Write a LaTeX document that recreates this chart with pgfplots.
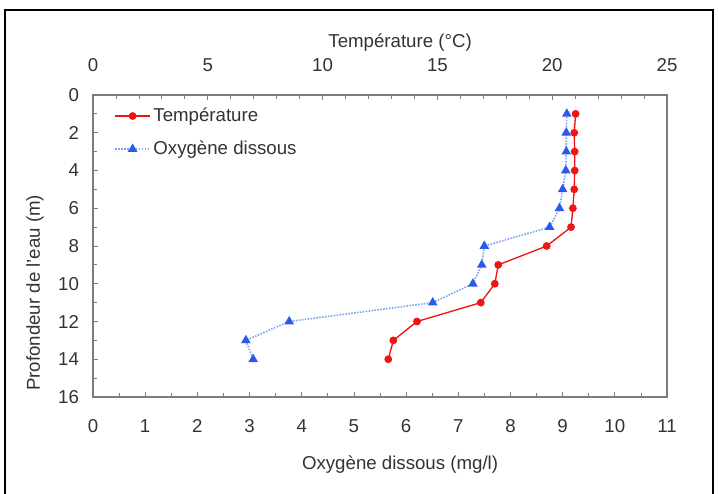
\documentclass[border=0pt]{standalone}
\usepackage{fontspec}
\setmainfont{Liberation Sans}
\usepackage{pgfplots}
\pgfplotsset{compat=1.18}

\definecolor{tempred}{RGB}{240,20,20}
\definecolor{oxyblue}{RGB}{40,90,240}
\definecolor{oxyline}{RGB}{130,160,250}
\definecolor{axgray}{RGB}{125,125,125}

% depth (m) vs temperature (degC)
\pgfplotstableread{
depth temp
1  21.02
2  20.96
3  20.98
4  20.98
5  20.96
6  20.90
7  20.82
8  19.76
9  17.65
10 17.50
11 16.89
12 14.11
13 13.08
14 12.86
}\temptable

% depth (m) vs dissolved oxygen (mg/l)
\pgfplotstableread{
depth oxy
1  9.08
2  9.07
3  9.07
4  9.06
5  9.00
6  8.94
7  8.75
8  7.50
9  7.45
10 7.28
11 6.51
12 3.76
13 2.93
14 3.07
}\oxytable

\pgfplotsset{
  common/.style={
    scale only axis,
    width=430.5pt, height=226.5pt,
    at={(0,0)}, anchor=south west,
    ymin=0, ymax=16, y dir=reverse,
    font=\fontsize{14}{16}\selectfont,
    /pgf/number format/assume math mode=true,
    tick align=inside,
    major tick length=4pt, minor tick length=3pt,
    tick style={axgray, line width=0.6pt},
    every tick label/.append style={text=black!80},
    label style={text=black!80},
  },
}

\begin{document}
\begin{tikzpicture}
\useasboundingbox (-69.75pt,-72pt) rectangle (468.75pt,297.75pt);
\draw[line width=2.2pt] (-66pt,-150pt) rectangle (465pt,290.25pt);

% oxygen, bottom axis
\begin{axis}[
  common,
  axis line style={axgray, line width=0.8pt},
  xmin=0, xmax=11,
  xtick={0,1,...,11}, minor x tick num=1,
  ytick={0,2,...,16}, minor y tick num=1,
  xtick pos=left, ytick pos=left,
  xticklabel style={yshift=-13.5pt},
  yticklabel style={xshift=-7pt},
  xlabel={Oxygène dissous (mg/l)},
  xlabel style={at={(axis description cs:0.535,-0.225)}, anchor=center},
  ylabel={Profondeur de l'eau (m)},
  ylabel style={at={(axis description cs:-0.101,0.345)}, anchor=center, rotate=0},
]
\addplot[oxyline, densely dotted, line width=1.2pt,
  mark=triangle*, mark size=3pt,
  mark options={solid, fill=oxyblue, draw=oxyblue}]
  table[x=oxy, y=depth] {\oxytable};
\end{axis}

% temperature, top axis
\begin{axis}[
  common,
  axis x line*=top, axis y line=none,
  axis line style={draw=none},
  xmin=0, xmax=25,
  xtick={0,5,...,25}, minor x tick num=4,
  xticklabel style={yshift=14pt},
  xlabel={Température (°C)},
  xlabel style={at={(axis description cs:0.535,1.172)}, anchor=center},
  legend cell align=left,
  legend style={at={(axis description cs:0.03,0.975)}, anchor=north west,
    draw=none, fill=none, text=black!80, row sep=9pt,
    font=\fontsize{14}{16}\selectfont},
  legend image code/.code={
    \draw[mark repeat=2, mark phase=2]
      plot coordinates {(0pt,0pt) (13pt,0pt) (26pt,0pt)};},
]
\addplot[tempred, line width=1pt,
  mark=*, mark size=2.4pt, mark options={fill=tempred}]
  table[x=temp, y=depth] {\temptable};
\addlegendentry{Température}
\addlegendimage{oxyline, densely dotted, line width=1.2pt,
  mark=triangle*, mark size=3pt,
  mark options={solid, fill=oxyblue, draw=oxyblue}}
\addlegendentry{Oxygène dissous}
\end{axis}
\end{tikzpicture}
\end{document}
